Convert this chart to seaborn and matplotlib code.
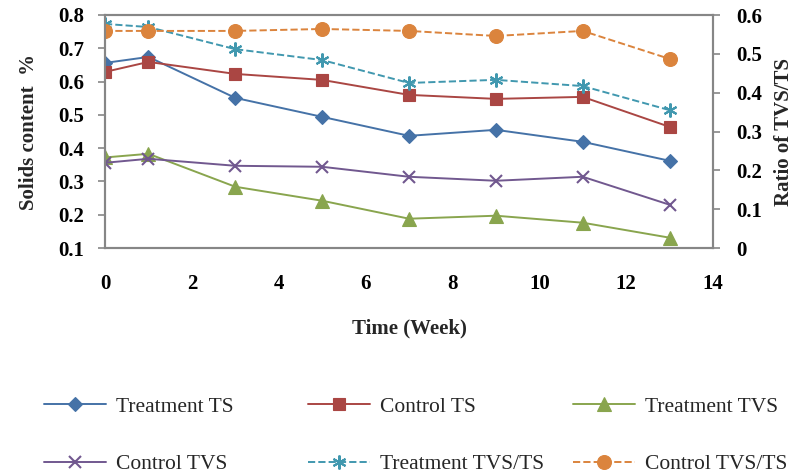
import matplotlib
matplotlib.use("Agg")
import matplotlib.pyplot as plt
import seaborn as sns
import pandas as pd

weeks = [0, 1, 3, 5, 7, 9, 11, 13]
treatment_ts = [0.656, 0.674, 0.551, 0.494, 0.437, 0.455, 0.419, 0.362]
control_ts = [0.629, 0.659, 0.623, 0.605, 0.560, 0.548, 0.554, 0.464]
treatment_tvs = [0.372, 0.383, 0.284, 0.242, 0.188, 0.197, 0.176, 0.131]
control_tvs = [0.356, 0.368, 0.347, 0.344, 0.314, 0.302, 0.314, 0.230]
treatment_ratio = [0.577, 0.569, 0.512, 0.484, 0.425, 0.433, 0.417, 0.355]
control_ratio = [0.559, 0.559, 0.559, 0.564, 0.559, 0.546, 0.559, 0.487]

left_ticks = [0.1, 0.2, 0.3, 0.4, 0.5, 0.6, 0.7, 0.8]
right_ticks = [0, 0.1, 0.2, 0.3, 0.4, 0.5, 0.6]
x_ticks = [0, 2, 4, 6, 8, 10, 12, 14]

sns.set_theme(style="white")
plt.rcParams['font.family'] = ['Liberation Serif', 'DejaVu Serif']

fig = plt.figure(figsize=(8.08, 4.74), dpi=100)
ax = fig.add_axes([105/808, 1-248/474, (713-105)/808, (248-15)/474])
ax2 = ax.twinx()

grey = '#868686'
series_left = [
    ("Treatment TS", treatment_ts, '#4572A7', 'D', 7, '-'),
    ("Control TS", control_ts, '#AA4643', 's', 9, '-'),
    ("Treatment TVS", treatment_tvs, '#89A54E', '^', 10, '-'),
    ("Control TVS", control_tvs, '#71588F', 'x', 9, '-'),
]
series_right = [
    ("Treatment TVS/TS", treatment_ratio, '#4198AF', (6, 2, 0), 10, '--'),
    ("Control TVS/TS", control_ratio, '#DB843D', 'o', 10, '--'),
]

handles = {}
for axis, group in ((ax, series_left), (ax2, series_right)):
    for name, vals, col, mk, ms, ls in group:
        df = pd.DataFrame({"week": weeks, "value": vals})
        sns.lineplot(data=df, x="week", y="value", ax=axis, color=col, marker=mk,
                     markersize=ms, linestyle=ls, linewidth=1.4,
                     markeredgecolor=col, markeredgewidth=1.5 if mk in ('x', (6, 2, 0)) else 0.8,
                     label=name, legend=False)
        handles[name] = axis.lines[-1]

ax.set_xlim(0, 14)
ax.set_ylim(0.1, 0.8)
ax2.set_ylim(0, 0.6)
ax.set_xticks(x_ticks)
ax.set_yticks(left_ticks)
ax2.set_yticks(right_ticks)
ax.set_xticklabels([str(t) for t in x_ticks])
ax.set_yticklabels([f"{t:.1f}" for t in left_ticks])
ax2.set_yticklabels(["0"] + [f"{t:.1f}" for t in right_ticks[1:]])

for a in (ax, ax2):
    for s in a.spines.values():
        s.set_color(grey)
        s.set_linewidth(1.5)
    a.tick_params(axis='both', which='major', direction='out', length=5, width=1.2,
                  color=grey, labelsize=15, labelcolor='black')
    for lab in a.get_xticklabels() + a.get_yticklabels():
        lab.set_fontweight('bold')
ax.tick_params(axis='x', pad=14)
ax.tick_params(axis='y', left=True, pad=10)
ax2.tick_params(axis='y', right=True, pad=12)

ax.set_xlabel("Time (Week)", fontsize=15, fontweight='bold', labelpad=17)
ax.set_ylabel("Solids content  %", fontsize=15, fontweight='bold', labelpad=14)
ax2.set_ylabel("Ratio of TVS/TS", fontsize=15, fontweight='bold', labelpad=8)

cols = [("Treatment TS", "Control TVS"), ("Control TS", "Treatment TVS/TS"),
        ("Treatment TVS", "Control TVS/TS")]
col_x = [45, 309, 574]
for (a, b), x in zip(cols, col_x):
    fig.legend([handles[a], handles[b]], [a, b], loc='upper left',
               bbox_to_anchor=(x/808 - 0.012, 1 - 388/474), frameon=False,
               fontsize=15.5, handlelength=2.9, handletextpad=0.45, labelspacing=1.75,
               borderaxespad=0)

fig.savefig("out.png", dpi=100)
